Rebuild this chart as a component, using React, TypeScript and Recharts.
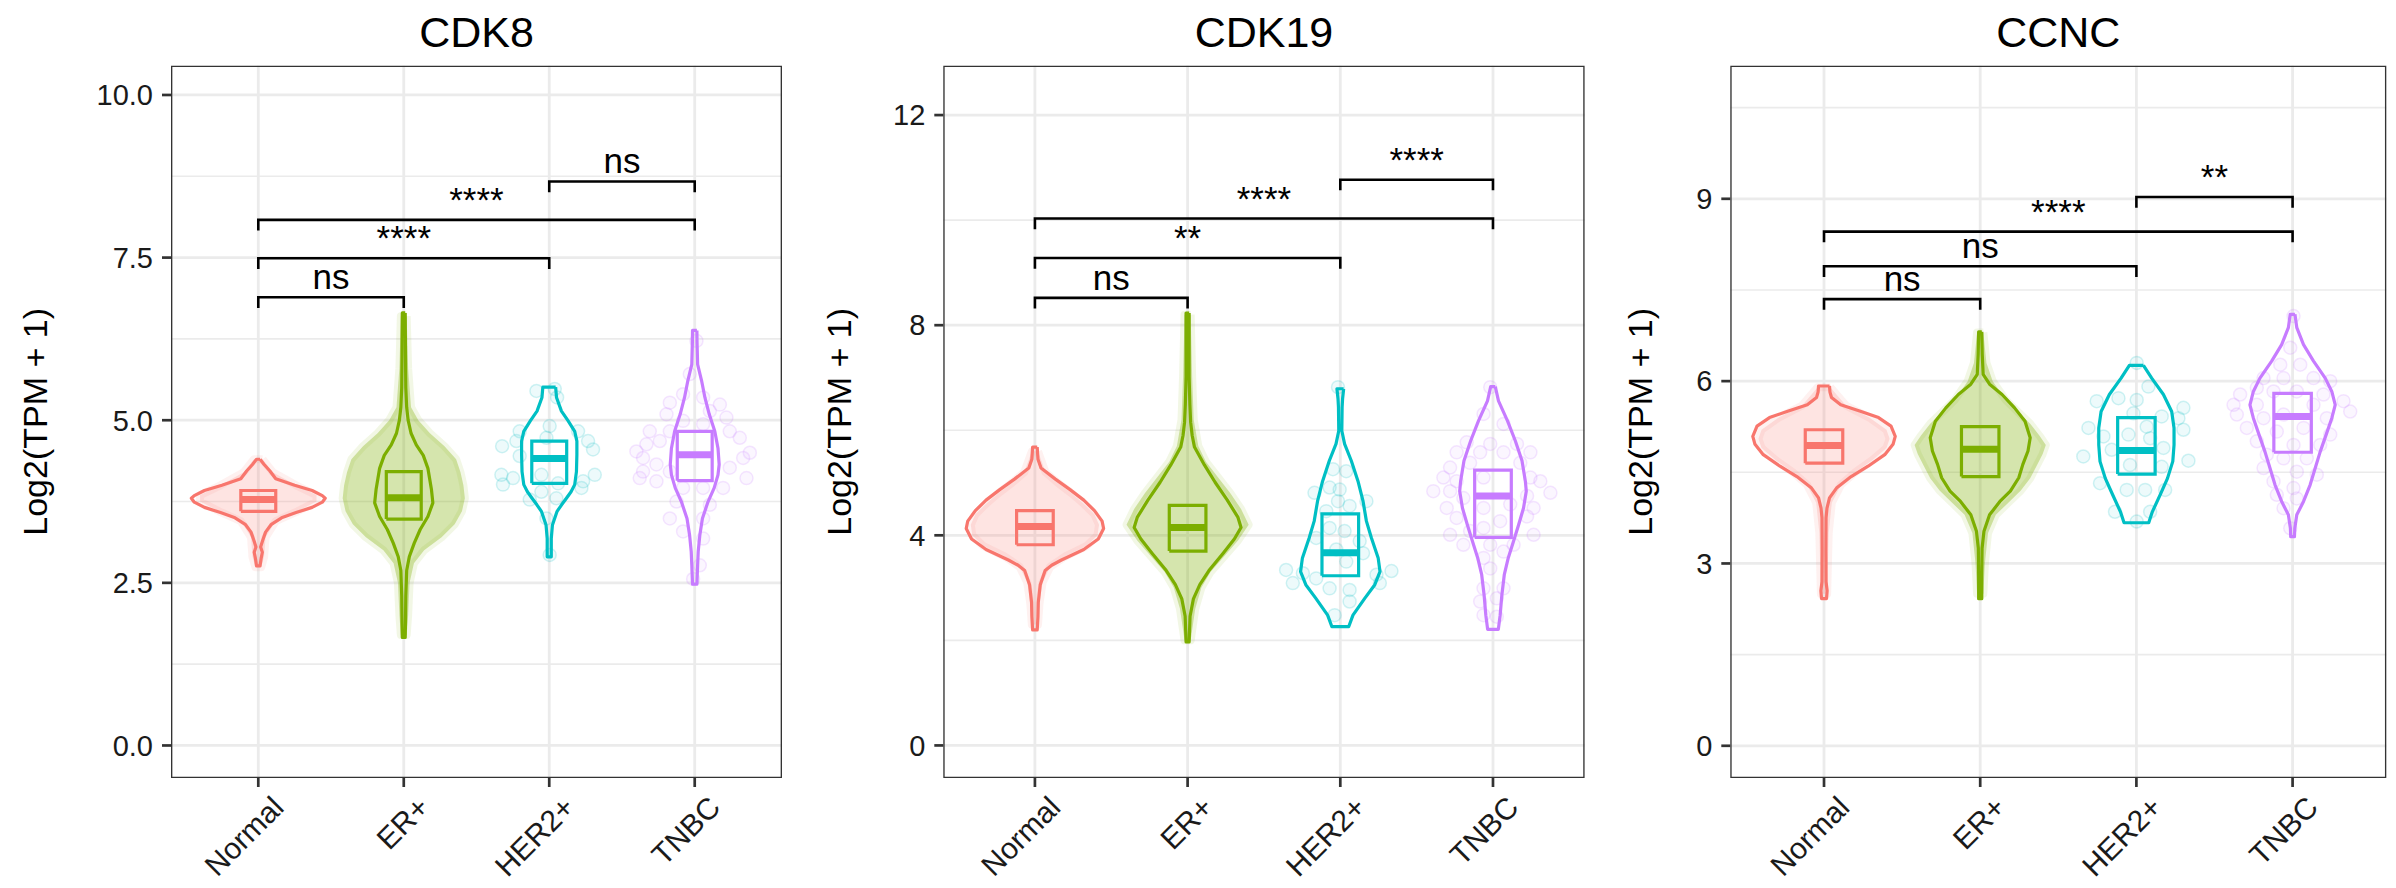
import React from 'react';
import { ComposedChart, Scatter, XAxis, YAxis, CartesianGrid } from 'recharts';

const FONT = '"Liberation Sans", Arial, Helvetica, sans-serif';

const groups = ['Normal', 'ER+', 'HER2+', 'TNBC'];
const groupColors = ['#F8766D', '#7CAE00', '#00BFC4', '#C77CFF'];

// violin outlines, top to bottom: [log2(TPM + 1), half width in category units]
const cdk8NormalViolin = [[4.40, 0.012], [4.32, 0.04], [4.22, 0.08], [4.10, 0.12], [4.00, 0.25], [3.92, 0.37], [3.84, 0.44], [3.80, 0.46], [3.74, 0.44], [3.66, 0.37], [3.58, 0.26], [3.50, 0.16], [3.40, 0.09], [3.28, 0.05], [3.15, 0.03], [3.05, 0.016], [2.97, 0.028], [2.88, 0.02], [2.76, 0.012]];
const cdk8ErViolin = [[6.65, 0.01], [6.0, 0.012], [5.5, 0.014], [5.2, 0.02], [5.0, 0.03], [4.8, 0.05], [4.62, 0.086], [4.46, 0.134], [4.26, 0.166], [3.94, 0.19], [3.73, 0.2], [3.52, 0.166], [3.32, 0.113], [3.11, 0.072], [2.90, 0.038], [2.69, 0.02], [2.3, 0.014], [1.9, 0.012], [1.66, 0.01]];
const cdk8Her2Violin = [[5.51, 0.044], [5.35, 0.05], [5.14, 0.084], [4.99, 0.13], [4.83, 0.175], [4.68, 0.19], [4.47, 0.19], [4.21, 0.187], [4.01, 0.175], [3.90, 0.15], [3.80, 0.118], [3.70, 0.085], [3.60, 0.054], [3.39, 0.022], [3.18, 0.014], [2.90, 0.014]];
const cdk8TnbcViolin = [[6.38, 0.015], [6.2, 0.016], [5.86, 0.02], [5.61, 0.047], [5.35, 0.07], [5.09, 0.1], [4.83, 0.138], [4.57, 0.16], [4.32, 0.168], [4.16, 0.16], [3.96, 0.134], [3.75, 0.092], [3.49, 0.053], [3.23, 0.035], [2.98, 0.024], [2.77, 0.02], [2.48, 0.015]];

const cdk19NormalViolin = [[5.68, 0.015], [5.45, 0.02], [5.28, 0.04], [5.07, 0.134], [4.87, 0.23], [4.67, 0.32], [4.47, 0.39], [4.27, 0.44], [4.13, 0.45], [3.93, 0.415], [3.73, 0.32], [3.53, 0.174], [3.43, 0.11], [3.33, 0.067], [3.06, 0.035], [2.72, 0.022], [2.45, 0.02], [2.2, 0.015]];
const cdk19ErViolin = [[8.23, 0.01], [7.5, 0.01], [7.02, 0.01], [6.48, 0.015], [6.15, 0.02], [5.9, 0.03], [5.68, 0.045], [5.34, 0.11], [5.01, 0.18], [4.67, 0.26], [4.34, 0.33], [4.15, 0.35], [3.93, 0.306], [3.66, 0.233], [3.33, 0.14], [3.06, 0.08], [2.79, 0.038], [2.46, 0.016], [1.97, 0.01]];
const cdk19Her2Violin = [[6.79, 0.022], [6.6, 0.015], [6.44, 0.012], [5.99, 0.01], [5.74, 0.028], [5.42, 0.072], [5.03, 0.116], [4.65, 0.149], [4.27, 0.171], [3.95, 0.204], [3.57, 0.248], [3.31, 0.26], [3.06, 0.226], [2.80, 0.16], [2.48, 0.083], [2.26, 0.055]];
const cdk19TnbcViolin = [[6.83, 0.015], [6.56, 0.036], [6.18, 0.095], [5.80, 0.146], [5.42, 0.19], [5.03, 0.212], [4.84, 0.218], [4.52, 0.2], [4.20, 0.168], [3.89, 0.135], [3.57, 0.1], [3.25, 0.074], [2.86, 0.058], [2.48, 0.047], [2.21, 0.035]];

const ccncNormalViolin = [[5.92, 0.035], [5.82, 0.038], [5.73, 0.048], [5.61, 0.107], [5.51, 0.228], [5.40, 0.349], [5.26, 0.429], [5.09, 0.456], [4.96, 0.442], [4.79, 0.389], [4.60, 0.282], [4.43, 0.174], [4.24, 0.08], [4.08, 0.035], [3.91, 0.019], [3.75, 0.013], [3.2, 0.012], [2.7, 0.013], [2.55, 0.02], [2.42, 0.016]];
const ccncErViolin = [[6.81, 0.01], [6.44, 0.013], [6.11, 0.019], [5.95, 0.06], [5.78, 0.14], [5.56, 0.22], [5.34, 0.287], [5.07, 0.32], [4.85, 0.306], [4.63, 0.273], [4.41, 0.247], [4.19, 0.193], [4.02, 0.126], [3.80, 0.06], [3.53, 0.024], [3.25, 0.012], [2.8, 0.01], [2.42, 0.01]];
const ccncHer2Violin = [[6.26, 0.045], [6.05, 0.098], [5.78, 0.173], [5.50, 0.226], [5.23, 0.241], [4.95, 0.241], [4.68, 0.233], [4.40, 0.199], [4.13, 0.152], [3.85, 0.102], [3.67, 0.079]];
const ccncTnbcViolin = [[7.10, 0.015], [6.88, 0.027], [6.60, 0.07], [6.33, 0.134], [6.05, 0.209], [5.83, 0.251], [5.61, 0.273], [5.39, 0.251], [5.12, 0.215], [4.84, 0.177], [4.57, 0.145], [4.29, 0.112], [4.02, 0.07], [3.80, 0.027], [3.58, 0.014], [3.44, 0.012]];

// extent of the dense sample clouds (Normal, ER+): [value, half width]
const cdk8NormalCloud = [[4.4, 0.03], [4.2, 0.1], [4.0, 0.26], [3.85, 0.4], [3.75, 0.4], [3.6, 0.27], [3.45, 0.12], [3.2, 0.05], [2.9, 0.04], [2.74, 0.02]];
const cdk8ErCloud = [[6.6, 0.02], [5.8, 0.03], [5.2, 0.05], [5.0, 0.1], [4.8, 0.18], [4.6, 0.28], [4.4, 0.36], [4.2, 0.39], [4.0, 0.41], [3.8, 0.42], [3.6, 0.4], [3.4, 0.35], [3.2, 0.26], [3.0, 0.14], [2.8, 0.07], [2.5, 0.04], [2.0, 0.03], [1.7, 0.02]];
const cdk19NormalCloud = [[5.6, 0.02], [5.2, 0.07], [5.0, 0.15], [4.8, 0.24], [4.6, 0.32], [4.4, 0.39], [4.2, 0.42], [4.0, 0.41], [3.8, 0.34], [3.6, 0.2], [3.4, 0.1], [3.1, 0.05], [2.7, 0.03], [2.3, 0.02]];
const cdk19ErCloud = [[8.2, 0.02], [7.0, 0.03], [6.2, 0.04], [5.7, 0.07], [5.4, 0.12], [5.1, 0.2], [4.8, 0.28], [4.5, 0.35], [4.2, 0.4], [3.9, 0.33], [3.6, 0.24], [3.3, 0.15], [3.0, 0.09], [2.6, 0.05], [2.0, 0.02]];
const ccncNormalCloud = [[5.9, 0.04], [5.6, 0.14], [5.4, 0.29], [5.2, 0.4], [5.05, 0.42], [4.9, 0.4], [4.7, 0.31], [4.5, 0.2], [4.3, 0.11], [4.0, 0.05], [3.5, 0.03], [2.5, 0.02]];
const ccncErCloud = [[6.8, 0.02], [6.3, 0.04], [6.0, 0.08], [5.7, 0.16], [5.5, 0.24], [5.3, 0.32], [5.1, 0.38], [4.95, 0.42], [4.8, 0.4], [4.6, 0.36], [4.4, 0.32], [4.2, 0.26], [4.0, 0.18], [3.8, 0.1], [3.5, 0.05], [3.0, 0.03], [2.5, 0.02]];

// jittered samples of the small groups: [offset from category, value]
const cdk8Her2Points = [[-0.088, 5.45], [0.038, 5.48], [0.054, 5.35], [-0.203, 4.83], [-0.324, 4.6], [-0.226, 4.68], [0.198, 4.83], [0.267, 4.68], [0.301, 4.55], [-0.203, 4.45], [-0.019, 4.73], [0.003, 4.91], [-0.329, 4.16], [-0.249, 4.11], [-0.318, 4.01], [0.313, 4.16], [0.233, 4.06], [0.221, 3.96], [-0.054, 3.9], [0.049, 3.8], [-0.134, 3.78], [-0.019, 3.49], [0.003, 2.93], [-0.054, 4.16], [0.061, 4.03]];
const cdk8TnbcPoints = [[0.012, 6.22], [-0.034, 5.71], [-0.08, 5.4], [-0.171, 5.27], [0.058, 5.35], [0.173, 5.24], [0.104, 5.14], [0.218, 5.04], [-0.194, 5.09], [-0.08, 4.99], [0.058, 4.94], [-0.309, 4.83], [-0.171, 4.83], [0.241, 4.83], [0.31, 4.73], [-0.332, 4.63], [-0.24, 4.68], [-0.401, 4.52], [-0.355, 4.42], [0.379, 4.5], [0.333, 4.42], [-0.263, 4.32], [-0.355, 4.21], [-0.171, 4.21], [0.241, 4.27], [0.356, 4.11], [-0.378, 4.11], [-0.263, 4.06], [-0.08, 3.96], [0.058, 3.96], [0.195, 3.96], [-0.125, 3.75], [0.104, 3.7], [-0.171, 3.49], [0.058, 3.49], [-0.08, 3.29], [0.058, 3.18], [0.035, 2.77], [-0.011, 2.56]];
const cdk19Her2Points = [[-0.015, 6.82], [-0.048, 5.26], [0.039, 5.22], [-0.169, 4.81], [-0.07, 4.91], [-0.004, 4.87], [0.171, 4.65], [-0.015, 4.65], [-0.092, 4.46], [0.061, 4.56], [-0.07, 4.14], [0.028, 4.08], [-0.158, 3.95], [0.127, 3.89], [-0.026, 3.73], [0.149, 3.66], [0.039, 3.5], [-0.355, 3.34], [-0.245, 3.28], [-0.311, 3.09], [-0.158, 3.18], [-0.07, 2.99], [0.061, 2.96], [0.237, 3.25], [0.335, 3.32], [0.061, 2.74], [-0.037, 2.48], [0.259, 3.09]];
const cdk19TnbcPoints = [[-0.018, 6.82], [-0.062, 6.31], [0.069, 6.12], [-0.172, 5.77], [-0.018, 5.74], [0.157, 5.74], [0.245, 5.58], [-0.238, 5.58], [-0.084, 5.58], [0.069, 5.58], [-0.281, 5.29], [-0.15, 5.38], [0.179, 5.38], [-0.325, 5.1], [-0.238, 5.03], [-0.062, 5.1], [0.245, 5.1], [-0.391, 4.84], [-0.281, 4.84], [0.31, 5.03], [0.376, 4.81], [-0.194, 4.71], [0.223, 4.75], [-0.303, 4.52], [-0.062, 4.52], [0.113, 4.59], [0.266, 4.52], [-0.238, 4.33], [0.047, 4.27], [0.223, 4.36], [-0.281, 4.01], [-0.15, 4.08], [-0.062, 4.14], [0.266, 4.01], [-0.194, 3.82], [-0.018, 3.82], [0.135, 3.82], [-0.062, 3.57], [0.069, 3.69], [-0.018, 3.37], [-0.062, 2.99], [0.069, 2.99], [-0.084, 2.74], [0.025, 2.8], [-0.062, 2.48], [0.025, 2.45]];
const ccncHer2Points = [[0.002, 6.3], [0.077, 5.91], [-0.115, 5.72], [-0.254, 5.67], [0.002, 5.69], [0.301, 5.56], [0.269, 5.39], [0.162, 5.42], [-0.019, 5.47], [0.066, 5.25], [-0.307, 5.23], [-0.211, 5.09], [0.301, 5.2], [-0.158, 4.87], [-0.051, 5.12], [0.173, 4.9], [0.088, 5.06], [-0.34, 4.76], [0.333, 4.69], [-0.041, 4.62], [0.162, 4.59], [-0.233, 4.32], [-0.062, 4.21], [0.056, 4.21], [0.184, 4.21], [-0.137, 3.85], [0.088, 3.85], [0.002, 3.69]];
const ccncTnbcPoints = [[0.006, 7.07], [-0.015, 6.55], [-0.079, 6.27], [0.049, 6.27], [-0.186, 6.05], [-0.058, 6.05], [0.134, 6.05], [-0.229, 5.89], [0.241, 6.0], [-0.336, 5.78], [-0.122, 5.83], [0.027, 5.83], [0.198, 5.78], [-0.378, 5.61], [-0.229, 5.61], [0.134, 5.61], [0.326, 5.67], [0.369, 5.5], [-0.357, 5.45], [-0.186, 5.39], [0.219, 5.39], [-0.058, 5.45], [-0.293, 5.23], [-0.101, 5.17], [0.07, 5.23], [0.241, 5.12], [-0.229, 5.01], [0.006, 4.95], [0.177, 4.95], [-0.165, 4.79], [-0.058, 4.73], [0.091, 4.73], [-0.186, 4.57], [0.027, 4.51], [0.155, 4.46], [-0.122, 4.35], [0.006, 4.24], [-0.101, 4.13], [0.027, 4.07], [-0.058, 3.91], [-0.015, 3.58]];

// box stats per group: [q1, median, q3]
const cdk8Boxes = [[3.60, 3.78, 3.92], [3.48, 3.81, 4.21], [4.03, 4.41, 4.68], [4.07, 4.47, 4.83]];
const cdk19Boxes = [[3.82, 4.17, 4.47], [3.70, 4.15, 4.57], [3.23, 3.67, 4.41], [3.96, 4.75, 5.24]];
const ccncBoxes = [[4.65, 4.94, 5.20], [4.43, 4.88, 5.25], [4.47, 4.86, 5.40], [4.83, 5.42, 5.80]];

// pairwise comparisons: group indices (1-based), bracket height, significance
const cdk8Brackets = [
  { from: 1, to: 2, y: 6.89, label: 'ns' },
  { from: 1, to: 3, y: 7.49, label: '****' },
  { from: 1, to: 4, y: 8.08, label: '****' },
  { from: 3, to: 4, y: 8.67, label: 'ns' },
];
const cdk19Brackets = [
  { from: 1, to: 2, y: 8.52, label: 'ns' },
  { from: 1, to: 3, y: 9.28, label: '**' },
  { from: 1, to: 4, y: 10.03, label: '****' },
  { from: 3, to: 4, y: 10.77, label: '****' },
];
const ccncBrackets = [
  { from: 1, to: 2, y: 7.35, label: 'ns' },
  { from: 1, to: 3, y: 7.89, label: 'ns' },
  { from: 1, to: 4, y: 8.46, label: '****' },
  { from: 3, to: 4, y: 9.03, label: '**' },
];

type Bracket = { from: number; to: number; y: number; label: string };

interface PanelSpec {
  title: string;
  domain: [number, number];
  ticks: number[];
  minorTicks: number[];
  digits: number;
  violins: number[][][];
  clouds: (number[][] | null)[];
  points: (number[][] | null)[];
  boxes: number[][];
  brackets: Bracket[];
  left: number;
  width: number;
  plotLeft: number;
  marginRight: number;
  yTitleX: number;
}

const panels: PanelSpec[] = [
  {
    title: 'CDK8',
    domain: [-0.5, 10.45],
    ticks: [0, 2.5, 5, 7.5, 10],
    minorTicks: [1.25, 3.75, 6.25, 8.75],
    digits: 1,
    violins: [cdk8NormalViolin, cdk8ErViolin, cdk8Her2Violin, cdk8TnbcViolin],
    clouds: [cdk8NormalCloud, cdk8ErCloud, null, null],
    points: [null, null, cdk8Her2Points, cdk8TnbcPoints],
    boxes: cdk8Boxes,
    brackets: cdk8Brackets,
    left: 0,
    width: 799,
    plotLeft: 171,
    marginRight: 17,
    yTitleX: 35,
  },
  {
    title: 'CDK19',
    domain: [-0.62, 12.94],
    ticks: [0, 4, 8, 12],
    minorTicks: [2, 6, 10],
    digits: 0,
    violins: [cdk19NormalViolin, cdk19ErViolin, cdk19Her2Violin, cdk19TnbcViolin],
    clouds: [cdk19NormalCloud, cdk19ErCloud, null, null],
    points: [null, null, cdk19Her2Points, cdk19TnbcPoints],
    boxes: cdk19Boxes,
    brackets: cdk19Brackets,
    left: 799,
    width: 799,
    plotLeft: 144.3,
    marginRight: 13.4,
    yTitleX: 40,
  },
  {
    title: 'CCNC',
    domain: [-0.53, 11.19],
    ticks: [0, 3, 6, 9],
    minorTicks: [1.5, 4.5, 7.5, 10.5],
    digits: 0,
    violins: [ccncNormalViolin, ccncErViolin, ccncHer2Violin, ccncTnbcViolin],
    clouds: [ccncNormalCloud, ccncErCloud, null, null],
    points: [null, null, ccncHer2Points, ccncTnbcPoints],
    boxes: ccncBoxes,
    brackets: ccncBrackets,
    left: 1598,
    width: 798,
    plotLeft: 132.3,
    marginRight: 9.7,
    yTitleX: 42,
  },
];

const CHART_H = 888;
const MARGIN_TOP = 65.7;
const X_AXIS_H = 110;
const BOX_HALF = 0.12;

// closed outline: right side going down, left side coming back up
const outline = (center: number, profile: number[][]) => {
  const right = profile.map(([v, hw]) => ({ x: center + hw, y: v }));
  const left = profile.slice().reverse().map(([v, hw]) => ({ x: center - hw, y: v }));
  return [...right, ...left, right[0]];
};

const noDot = () => <g />;

const makeDot = (color: string) => (p: any) => (
  <circle cx={p.cx} cy={p.cy} r={6.5} fill={color} fillOpacity={0.07} stroke={color} strokeOpacity={0.18} strokeWidth={1.5} />
);

const bracketLabel = (p: any) => (
  <text x={p.cx} y={p.cy - 8} textAnchor="middle" fontSize={35} fontFamily={FONT} fill="#000">
    {p.payload.label}
  </text>
);

const CategoryTick = ({ x, y, payload }: any) => {
  const ax = x + 12;
  const ay = y - 2;
  return (
    <text x={ax} y={ay} dy="0.72em" transform={`rotate(-45, ${ax}, ${ay})`} textAnchor="end" fontSize={30} fontFamily={FONT} fill="#1A1A1A">
      {groups[payload.value - 1]}
    </text>
  );
};

const Panel = ({ spec }: { spec: PanelSpec }) => {
  const [lo, hi] = spec.domain;
  const tip = (hi - lo) * 0.015;
  const plotRight = spec.width - spec.marginRight;
  const titleX = (spec.plotLeft + plotRight) / 2;
  const plotMidY = (MARGIN_TOP + CHART_H - X_AXIS_H) / 2;

  return (
    <div style={{ position: 'absolute', left: spec.left, top: 0, width: spec.width, height: CHART_H }}>
      <ComposedChart
        width={spec.width}
        height={CHART_H}
        margin={{ top: MARGIN_TOP, right: spec.marginRight, bottom: 0, left: 0 }}
      >
        <CartesianGrid stroke="#EBEBEB" strokeWidth={1.6} vertical={false} horizontalValues={spec.minorTicks} />
        <CartesianGrid stroke="#EBEBEB" strokeWidth={2.8} horizontalValues={spec.ticks} verticalValues={[1, 2, 3, 4]} />
        <XAxis
          type="number"
          dataKey="x"
          domain={[0.4, 4.6]}
          allowDataOverflow
          ticks={[1, 2, 3, 4]}
          interval={0}
          height={X_AXIS_H}
          axisLine={false}
          tickSize={9}
          tickMargin={9}
          tickLine={{ stroke: '#333333', strokeWidth: 2.7 }}
          tick={<CategoryTick />}
        />
        <YAxis
          type="number"
          dataKey="y"
          domain={spec.domain}
          allowDataOverflow
          ticks={spec.ticks}
          interval={0}
          width={spec.plotLeft}
          axisLine={false}
          tickSize={9}
          tickMargin={9}
          tickLine={{ stroke: '#333333', strokeWidth: 2.7 }}
          tick={{ fontSize: 29, fill: '#1A1A1A', fontFamily: FONT }}
          tickFormatter={(v: number) => v.toFixed(spec.digits)}
        />

        {spec.clouds.map((cloud, i) =>
          cloud ? (
            <Scatter
              key={`cloud-${i}`}
              data={outline(i + 1, cloud)}
              shape={noDot}
              line={{ fill: groupColors[i], fillOpacity: i === 1 ? 0.32 : 0.2, stroke: groupColors[i], strokeOpacity: 0.1, strokeWidth: 8, strokeLinejoin: 'round' }}
              lineJointType="linear"
              isAnimationActive={false}
            />
          ) : null,
        )}

        {spec.points.map((pts, i) =>
          pts ? (
            <Scatter
              key={`pts-${i}`}
              data={pts.map(([dx, v]) => ({ x: i + 1 + dx, y: v }))}
              shape={makeDot(groupColors[i])}
              isAnimationActive={false}
            />
          ) : null,
        )}

        {spec.violins.map((profile, i) => (
          <Scatter
            key={`violin-${i}`}
            data={outline(i + 1, profile)}
            shape={noDot}
            line={{ stroke: groupColors[i], strokeWidth: 3.2, fill: 'none', strokeLinejoin: 'round' }}
            lineJointType="linear"
            isAnimationActive={false}
          />
        ))}

        {spec.boxes.map(([q1, , q3], i) => {
          const c = i + 1;
          return (
            <Scatter
              key={`box-${i}`}
              data={[
                { x: c - BOX_HALF, y: q1 },
                { x: c + BOX_HALF, y: q1 },
                { x: c + BOX_HALF, y: q3 },
                { x: c - BOX_HALF, y: q3 },
                { x: c - BOX_HALF, y: q1 },
              ]}
              shape={noDot}
              line={{ stroke: groupColors[i], strokeWidth: 3.2, fill: 'none' }}
              lineJointType="linear"
              isAnimationActive={false}
            />
          );
        })}

        {spec.boxes.map(([, med], i) => (
          <Scatter
            key={`median-${i}`}
            data={[
              { x: i + 1 - BOX_HALF, y: med },
              { x: i + 1 + BOX_HALF, y: med },
            ]}
            shape={noDot}
            line={{ stroke: groupColors[i], strokeWidth: 7, fill: 'none' }}
            lineJointType="linear"
            isAnimationActive={false}
          />
        ))}

        {spec.brackets.map((b, i) => (
          <Scatter
            key={`bracket-${i}`}
            data={[
              { x: b.from, y: b.y - tip },
              { x: b.from, y: b.y },
              { x: b.to, y: b.y },
              { x: b.to, y: b.y - tip },
            ]}
            shape={noDot}
            line={{ stroke: '#000000', strokeWidth: 2.6, fill: 'none' }}
            lineJointType="linear"
            isAnimationActive={false}
          />
        ))}

        <Scatter
          data={spec.brackets.map((b) => ({ x: (b.from + b.to) / 2, y: b.y, label: b.label }))}
          shape={bracketLabel}
          isAnimationActive={false}
        />

        <Scatter
          data={[
            { x: 0.4, y: lo },
            { x: 4.6, y: lo },
            { x: 4.6, y: hi },
            { x: 0.4, y: hi },
            { x: 0.4, y: lo },
          ]}
          shape={noDot}
          line={{ stroke: '#333333', strokeWidth: 2.7, fill: 'none', strokeLinejoin: 'miter', strokeLinecap: 'square' }}
          lineJointType="linear"
          isAnimationActive={false}
        />
      </ComposedChart>

      <svg width={spec.width} height={CHART_H} style={{ position: 'absolute', left: 0, top: 0, pointerEvents: 'none' }}>
        <text x={titleX} y={46.7} textAnchor="middle" fontSize={43} fontFamily={FONT} fill="#000">
          {spec.title}
        </text>
        <text
          x={spec.yTitleX}
          y={plotMidY}
          transform={`rotate(-90, ${spec.yTitleX}, ${plotMidY})`}
          textAnchor="middle"
          dominantBaseline="central"
          fontSize={34}
          fontFamily={FONT}
          fill="#000"
        >
          Log2(TPM + 1)
        </text>
      </svg>
    </div>
  );
};

export default function App() {
  return (
    <div style={{ position: 'absolute', left: 0, top: 0, width: 2396, height: 888, background: '#FFFFFF' }}>
      {panels.map((p) => (
        <Panel key={p.title} spec={p} />
      ))}
    </div>
  );
}
